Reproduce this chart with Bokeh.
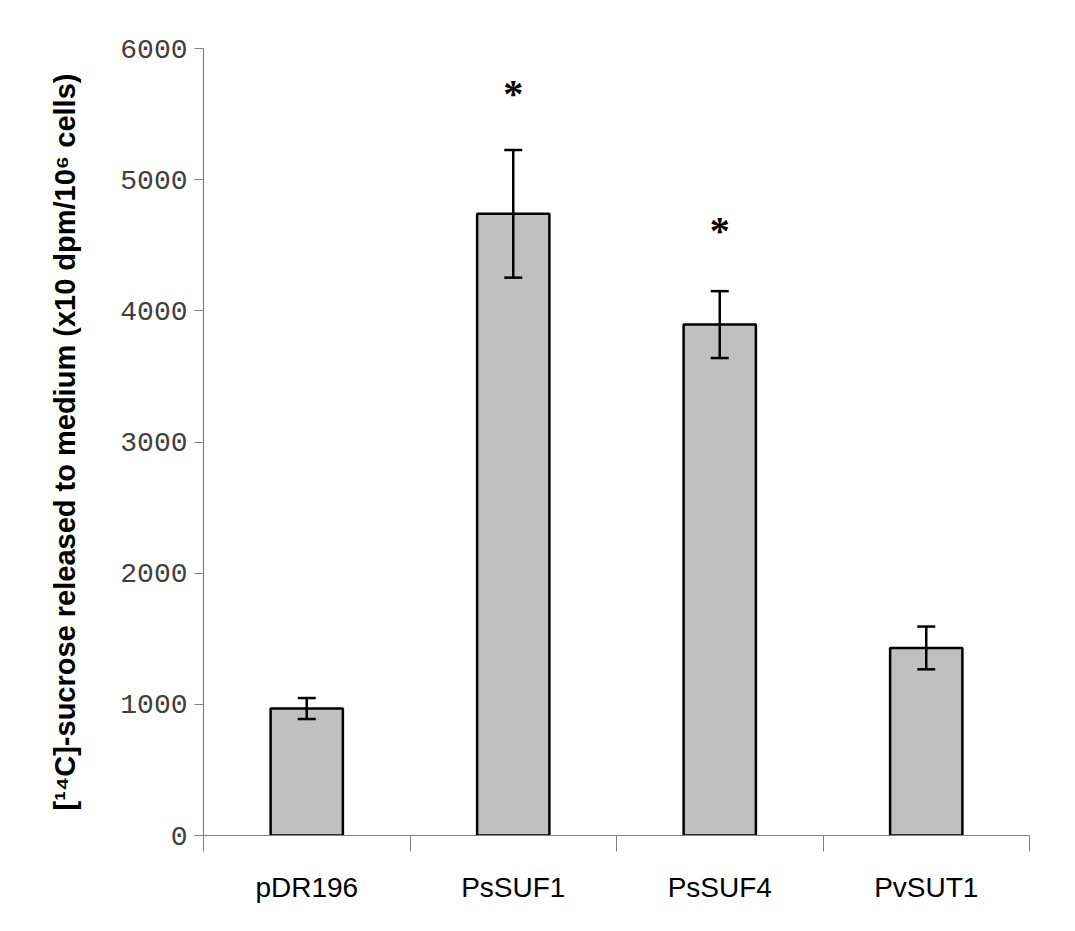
from bokeh.plotting import figure
from bokeh.models import ColumnDataSource, FixedTicker, Whisker, Range1d
from bokeh.models import TeeHead
from bokeh.core.properties import value
from bokeh.embed import file_html
from bokeh.resources import INLINE

categories = ["pDR196", "PsSUF1", "PsSUF4", "PvSUT1"]
means = [968, 4740, 3895, 1430]
errors = [80, 487, 255, 163]
significant = [False, True, True, False]
star_y = [None, 5660, 4610, None]
y_ticks = [0, 1000, 2000, 3000, 4000, 5000, 6000]

xc = [i + 0.5 for i in range(len(categories))]
src = ColumnDataSource(dict(
    x=xc, top=means,
    upper=[m + e for m, e in zip(means, errors)],
    lower=[m - e for m, e in zip(means, errors)],
))

p = figure(width=1066, height=920, output_backend="svg", toolbar_location=None,
           x_range=Range1d(0, len(categories)), y_range=Range1d(0, 6000),
           min_border_left=203, min_border_right=37, min_border_top=48, min_border_bottom=85)
p.outline_line_color = None
p.xgrid.visible = False
p.ygrid.visible = False

p.vbar(x="x", top="top", width=0.35, bottom=0, source=src,
       fill_color="#c0c0c0", line_color="black", line_width=2.5)

w = Whisker(base="x", upper="upper", lower="lower", source=src,
            line_color="black", line_width=2.5, level="overlay",
            upper_head=TeeHead(size=18, line_width=2.5, line_color="black"),
            lower_head=TeeHead(size=18, line_width=2.5, line_color="black"))
p.add_layout(w)

sx = [xc[i] for i in range(len(categories)) if significant[i]]
sy = [star_y[i] for i in range(len(categories)) if significant[i]]
p.text(x=sx, y=sy, text=["*"] * len(sx), text_align="center", text_baseline="middle",
       text_font=value("Liberation Serif"), text_font_size="40px", text_font_style="bold",
       text_color="black")

# x axis
xa = p.xaxis[0]
xa.ticker = FixedTicker(ticks=xc, minor_ticks=list(range(len(categories) + 1)))
xa.major_label_overrides = {x: c for x, c in zip(xc, categories)}
xa.major_tick_out = 0
xa.major_tick_in = 0
xa.minor_tick_out = 16
xa.minor_tick_in = 0
xa.minor_tick_line_color = "#808080"
xa.axis_line_color = "#808080"
xa.axis_line_width = 1.2
xa.major_label_standoff = 20
xa.major_label_text_font = "Liberation Sans"
xa.major_label_text_font_size = "28px"
xa.major_label_text_color = "black"

# y axis
ya = p.yaxis[0]
ya.ticker = FixedTicker(ticks=y_ticks, minor_ticks=[])
ya.major_tick_out = 9
ya.major_tick_in = 0
ya.major_tick_line_color = "#808080"
ya.axis_line_color = "#808080"
ya.axis_line_width = 1.2
ya.major_label_standoff = 7
ya.major_label_text_font = "Liberation Mono"
ya.major_label_text_font_size = "28px"
ya.major_label_text_color = "#404040"
ya.axis_label = "[\u00b9\u2074C]-sucrose released to medium (x10 dpm/10\u2076 cells)"
ya.axis_label_text_font = "Liberation Sans"
ya.axis_label_text_font_style = "bold"
ya.axis_label_text_font_size = "29px"
ya.axis_label_text_color = "black"
ya.axis_label_standoff = 36

open("out.html", "w").write(file_html(p, INLINE))
